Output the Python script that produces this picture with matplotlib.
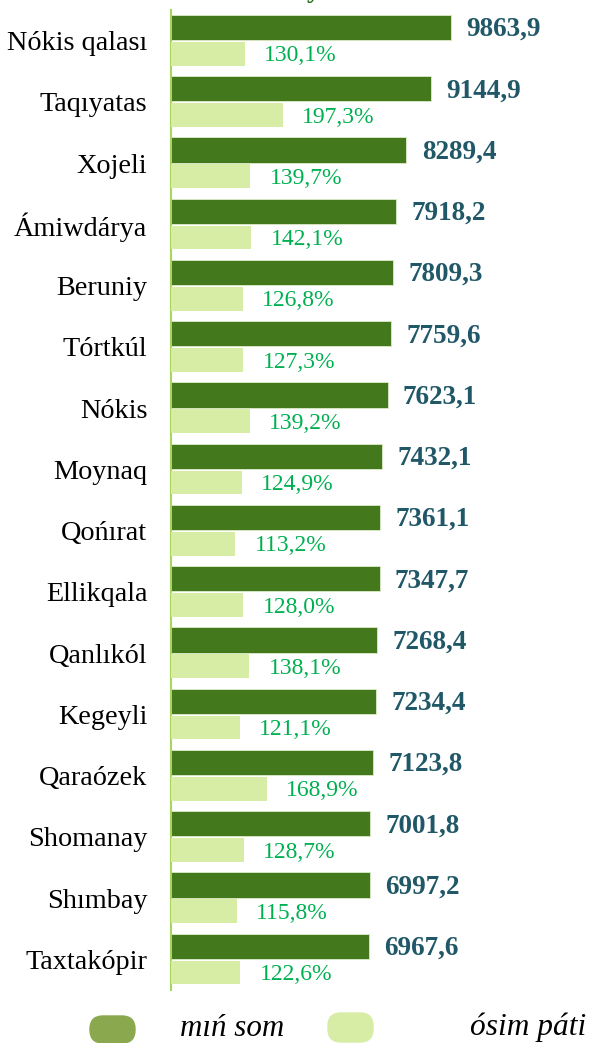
import matplotlib
matplotlib.use("Agg")
import matplotlib.pyplot as plt
from matplotlib.patches import FancyBboxPatch
import numpy as np

plt.rcParams['font.family'] = ['Liberation Serif', 'DejaVu Serif']

# data
districts = ['Nókis qalası', 'Taqıyatas', 'Xojeli', 'Ámiwdárya', 'Beruniy', 'Tórtkúl',
             'Nókis', 'Moynaq', 'Qońırat', 'Ellikqala', 'Qanlıkól', 'Kegeyli',
             'Qaraózek', 'Shomanay', 'Shımbay', 'Taxtakópir']
min_som = [9863.9, 9144.9, 8289.4, 7918.2, 7809.3, 7759.6, 7623.1, 7432.1,
           7361.1, 7347.7, 7268.4, 7234.4, 7123.8, 7001.8, 6997.2, 6967.6]
osim = [130.1, 197.3, 139.7, 142.1, 126.8, 127.3, 139.2, 124.9,
        113.2, 128.0, 138.1, 121.1, 168.9, 128.7, 115.8, 122.6]

dark = '#43781C'
light = '#D7ECA5'

W, H = 594, 1043
fig = plt.figure(figsize=(W / 100, H / 100), dpi=100)
ax = fig.add_axes([171 / W, 53 / H, 423 / W, 980 / H])
ax2 = ax.twiny()

y = np.arange(len(districts))
ax.barh(y - 0.215, min_som, height=0.41, color=dark, edgecolor='#DDEBC8', linewidth=0.6)
ax2.barh(y + 0.215, osim, height=0.39, color=light)

ax.set_xlim(0, 14894)
ax2.set_xlim(0, 747)
ax.set_ylim(len(districts) - 0.5, -0.5)
ax2.set_ylim(len(districts) - 0.5, -0.5)

for i in range(len(districts)):
    ax.annotate(f"{min_som[i]:.1f}".replace('.', ','), (min_som[i], y[i] - 0.215),
                xytext=(11, -1.5), textcoords='offset points', va='center', ha='left',
                fontsize=19.5, fontweight='bold', color='#215868')
    ax2.annotate(f"{osim[i]:.1f}".replace('.', ',') + '%', (osim[i], y[i] + 0.215),
                 xytext=(14, -1.5), textcoords='offset points', va='center', ha='left',
                 fontsize=17, color='#00B050')

ax.set_yticks(y)
ax.set_yticklabels(districts, fontsize=20.3, color='black')
ax.tick_params(axis='y', length=0, pad=17)
ax.set_xticks([])
ax2.set_xticks([])
for a in (ax, ax2):
    for s in ('top', 'right', 'bottom', 'left'):
        a.spines[s].set_visible(False)
ax.spines['left'].set_visible(True)
ax.spines['left'].set_color('#A9D65A')
ax.spines['left'].set_linewidth(1.5)

# cut-off title at the very top
fig.text(314 / W, 1 + 3 / H, 'y', ha='center', va='baseline', fontsize=20,
         fontweight='bold', color='#1F6B1F')

# legend (pill-shaped markers, positions in inches)
fig.patches.append(FancyBboxPatch((0.90, 0.00), 0.45, 0.27,
                                  boxstyle='round,pad=0,rounding_size=0.13',
                                  transform=fig.dpi_scale_trans, color='#8AA84E'))
fig.text(180 / W, 14 / H, 'mıń som', fontsize=22.3, style='italic', va='center', ha='left')
fig.patches.append(FancyBboxPatch((3.28, 0.01), 0.45, 0.29,
                                  boxstyle='round,pad=0,rounding_size=0.13',
                                  transform=fig.dpi_scale_trans, color=light))
fig.text(470 / W, 16 / H, 'ósim páti', fontsize=22.6, style='italic', va='center', ha='left')

fig.savefig('out.png', dpi=100)
